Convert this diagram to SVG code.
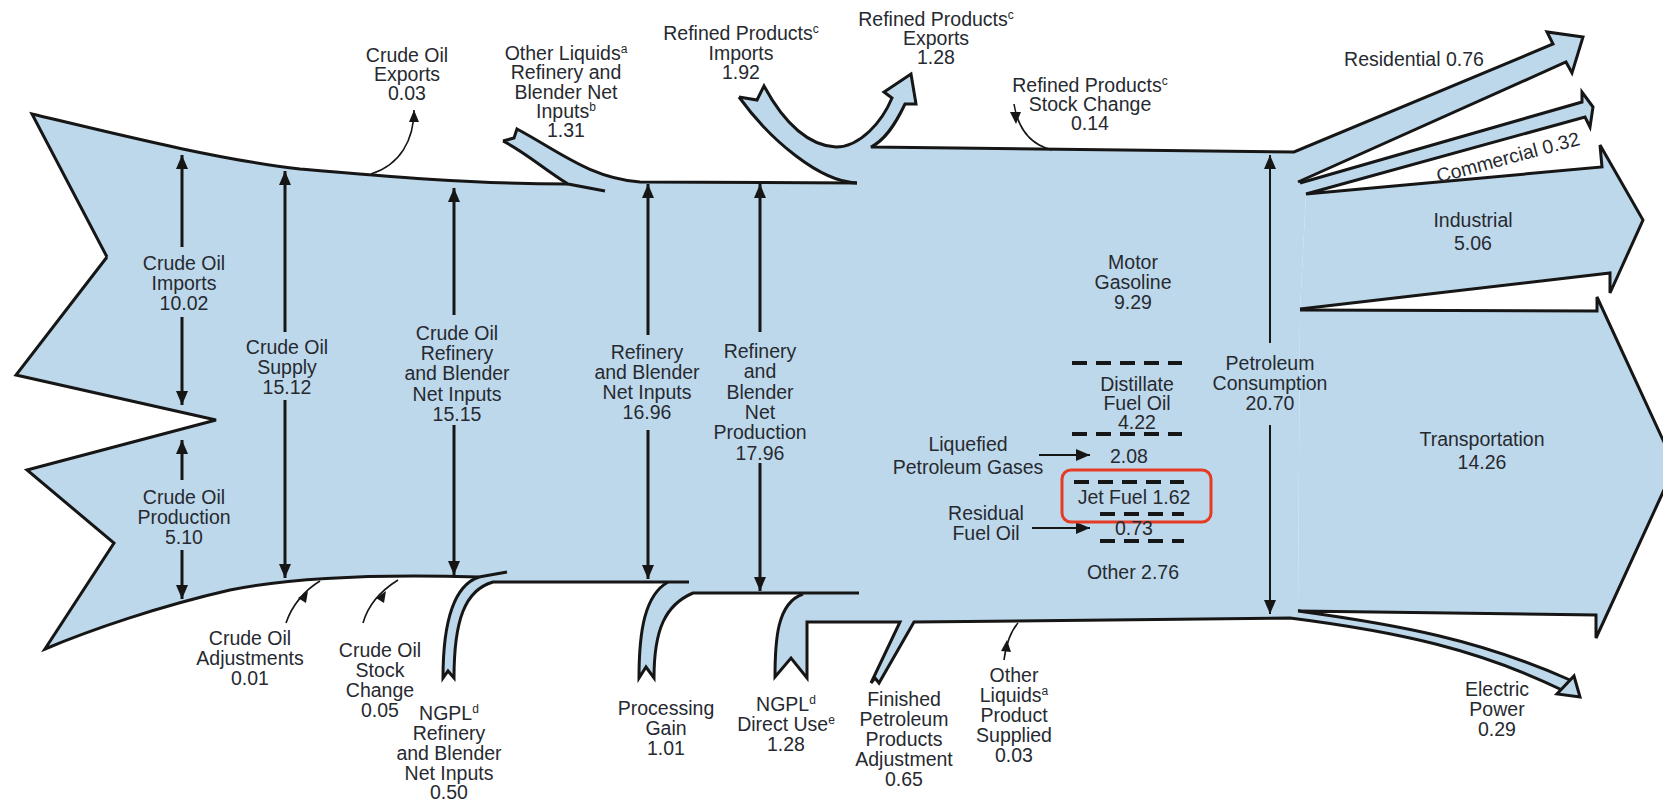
<svg xmlns="http://www.w3.org/2000/svg" width="1663" height="802" viewBox="0 0 1663 802">
<defs>
<style>
.t{font-family:"Liberation Sans",Arial,sans-serif;font-size:19.5px;fill:#262a30;text-anchor:middle}
.fl{fill:#bed8eb;stroke:none}
.ol{fill:none;stroke:#161616;stroke-width:3;stroke-linejoin:miter;stroke-linecap:butt}
.ah{fill:#bed8eb;stroke:#161616;stroke-width:3;stroke-linejoin:miter}
.va{fill:none;stroke:#161616;stroke-width:3}
.vt{fill:none;stroke:#161616;stroke-width:2}
.th{fill:none;stroke:#161616;stroke-width:1.6}
.dash{fill:none;stroke:#161616;stroke-width:4;stroke-dasharray:15 9}
.sm{fill:#161616}
</style>
<marker id="arr" viewBox="0 0 14 12" refX="14" refY="6" markerWidth="14" markerHeight="12" markerUnits="userSpaceOnUse" orient="auto">
<path d="M0,0 L14,6 L0,12 z" fill="#161616"/>
</marker>
<marker id="arrs" viewBox="0 0 12 10" refX="12" refY="5" markerWidth="12" markerHeight="10" markerUnits="userSpaceOnUse" orient="auto">
<path d="M0,0 L12,5 L0,10 z" fill="#161616"/>
</marker>
</defs>
<rect width="1663" height="802" fill="#ffffff"/>

<g id="flows">
<path class="fl" d="M32,114 C120,135 220,160 300,169 C380,176 470,184 568,184 C545,170 525,152 503,141 L514,138 L517,129 C560,152 590,178 640,182 L857,183 C820,182 770,140 739,97 L757,100 L764,86 C785,125 810,146 836,147 C860,147 882,122 892,98 L884,92 L911,74 L916,104 L905,104 C895,125 885,140 871,147 L1294,152 L1300,181 L1306,194 L1300,310 L1298,611 L1290,618 C1200,618 1050,621 914,622 L879,683 L875,678 L871,683 L900,622 L807,622 L807,678 L791,658 L775,677 C775,640 777,603 803,594 L693,593 C665,605 654,630 654,678 L646,667 L639,678 C639,630 645,595 668,582 L493,582 C465,590 454,620 454,678 L448,671 L443,678 C443,620 455,585 479,577 C380,574 290,578 230,590 C160,606 90,630 45,649 L114,543 L27,470 L216,420 L16,375 L107,257 Z"/>
<polygon class="fl" points="1294,152 1553,44 1547,32 1583,37 1572,73 1566,62 1298,182"/>
<polygon class="fl" points="1300,183 1582,102 1582,92 1593,107 1590,127 1585,117 1306,194"/>
<polygon class="fl" points="1306,194 1602,167 1600,145 1643,220 1610,293 1610,273 1300,309"/>
<polygon class="fl" points="1300,310 1597,311 1597,297 1675,466 1596,638 1596,615 1298,610"/>
<path class="fl" d="M1298,611 C1400,625 1480,640 1570,680 L1562,690 C1480,650 1400,632 1290,618 Z"/>
</g>

<g id="outlines">
<path class="ol" d="M107,257 L32,114 C120,135 220,160 300,169 C380,176 470,184 568,184"/>
<path class="ol" d="M503,141 C525,152 545,170 568,184 L605,191"/>
<path class="ol" d="M503,141 L514,138 L517,129 C560,152 590,178 640,182 L857,183"/>
<path class="ol" d="M857,183 C820,182 770,140 739,97"/>
<path class="ol" d="M739,97 L757,100 L764,86 C785,125 810,146 836,147 C860,147 882,122 892,98 L884,92 L911,74 L916,104 L905,104 C895,125 885,140 871,147 L1294,152 L1553,44 L1547,32 L1583,37 L1572,73 L1566,62 L1298,182"/>
<path class="ol" d="M1300,183 L1582,102 L1582,92 L1593,107 L1590,127 L1585,117 L1306,194 L1602,167 L1600,145 L1643,220 L1610,293 L1610,273 L1300,309"/>
<path class="ol" d="M1300,310 L1597,311 L1597,297 L1675,466 L1596,638 L1596,615 L1298,611 C1400,625 1480,640 1570,680"/>
<path class="ol" d="M1562,690 C1480,650 1400,632 1290,618 C1200,618 1050,621 914,622 L879,683 L875,678 L871,683 L900,622 L807,622 L807,678 L791,658 L775,677 C775,640 777,603 803,594"/>
<path class="ol" d="M859,593 L693,593 C665,605 654,630 654,678 L646,667 L639,678 C639,630 645,595 668,582"/>
<path class="ol" d="M689,582 L493,582 C465,590 454,620 454,678 L448,671 L443,678 C443,620 455,585 479,577"/>
<path class="ol" d="M507,572 L479,577 C380,574 290,578 230,590 C160,606 90,630 45,649 L114,543 L27,470 L216,420 L16,375 L107,257"/>
<polygon class="ah" points="1574,676 1580,697 1557,694"/>
</g>

<g id="connectors">
<path class="va" d="M182,247 L182,155" marker-end="url(#arr)"/>
<path class="va" d="M182,317 L182,405" marker-end="url(#arr)"/>
<path class="va" d="M182,480 L182,440" marker-end="url(#arr)"/>
<path class="va" d="M182,550 L182,599" marker-end="url(#arr)"/>
<path class="va" d="M285,332 L285,171" marker-end="url(#arr)"/>
<path class="va" d="M285,400 L285,578" marker-end="url(#arr)"/>
<path class="va" d="M454,315 L454,188" marker-end="url(#arr)"/>
<path class="va" d="M454,425 L454,575" marker-end="url(#arr)"/>
<path class="va" d="M648,335 L648,184" marker-end="url(#arr)"/>
<path class="va" d="M648,430 L648,579" marker-end="url(#arr)"/>
<path class="va" d="M760,332 L760,184" marker-end="url(#arr)"/>
<path class="va" d="M760,463 L760,591" marker-end="url(#arr)"/>
<path class="vt" d="M1270,343 L1270,155" marker-end="url(#arr)"/>
<path class="vt" d="M1270,425 L1270,614" marker-end="url(#arr)"/>
<path class="th" d="M371,174 C400,165 414,140 414,110" marker-end="url(#arrs)"/>
<path class="th" d="M1014,104 Q1020,142 1052,150"/>
<polygon class="sm" points="1010,112 1021,112 1016,124"/>
<path class="th" d="M286,623 C292,605 305,590 320,581"/>
<polygon class="sm" points="308,591 306,603 298,598"/>
<path class="th" d="M363,623 C368,605 382,590 398,580"/>
<polygon class="sm" points="386,591 384,603 376,598"/>
<path class="th" d="M1004,660 C1006,645 1010,632 1018,623"/>
<polygon class="sm" points="1007,640 1011,652 1001,651"/>
<path class="vt" d="M1039,455 L1090,455" marker-end="url(#arr)"/>
<path class="vt" d="M1032,528 L1090,528" marker-end="url(#arr)"/>
<path class="dash" d="M1072,363 L1182,363"/>
<path class="dash" d="M1072,434 L1182,434"/>
<path class="dash" d="M1074,482 L1184,482"/>
<path class="dash" d="M1100,514 L1184,514"/>
<path class="dash" d="M1100,541 L1184,541"/>
<rect x="1062" y="470" width="149" height="52" rx="9" fill="none" stroke="#e53b24" stroke-width="3"/>
</g>

<g id="label-crude-exports"><text class="t" x="407" y="62">Crude Oil</text><text class="t" x="407" y="81">Exports</text><text class="t" x="407" y="100">0.03</text></g>
<g id="label-other-liquids-inputs"><text class="t" x="566" y="60">Other Liquids<tspan font-size="12" dy="-7">a</tspan></text><text class="t" x="566" y="79">Refinery and</text><text class="t" x="566" y="99">Blender Net</text><text class="t" x="566" y="118">Inputs<tspan font-size="12" dy="-7">b</tspan></text><text class="t" x="566" y="137">1.31</text></g>
<g id="label-rp-imports"><text class="t" x="741" y="40">Refined Products<tspan font-size="12" dy="-7">c</tspan></text><text class="t" x="741" y="60">Imports</text><text class="t" x="741" y="79">1.92</text></g>
<g id="label-rp-exports"><text class="t" x="936" y="26">Refined Products<tspan font-size="12" dy="-7">c</tspan></text><text class="t" x="936" y="45">Exports</text><text class="t" x="936" y="64">1.28</text></g>
<g id="label-rp-stock"><text class="t" x="1090" y="92">Refined Products<tspan font-size="12" dy="-7">c</tspan></text><text class="t" x="1090" y="111">Stock Change</text><text class="t" x="1090" y="130">0.14</text></g>
<g id="label-residential"><text class="t" x="1414" y="66">Residential 0.76</text></g>
<g id="label-commercial"><text class="t" x="1508" y="164" transform="rotate(-15 1508 157)">Commercial 0.32</text></g>
<g id="label-industrial"><text class="t" x="1473" y="227">Industrial</text><text class="t" x="1473" y="250">5.06</text></g>
<g id="label-motor"><text class="t" x="1133" y="269">Motor</text><text class="t" x="1133" y="289">Gasoline</text><text class="t" x="1133" y="309">9.29</text></g>
<g id="label-distillate"><text class="t" x="1137" y="391">Distillate</text><text class="t" x="1137" y="410">Fuel Oil</text><text class="t" x="1137" y="429">4.22</text></g>
<g id="label-lpg-value"><text class="t" x="1129" y="463">2.08</text></g>
<g id="label-jet"><text class="t" x="1134" y="504">Jet Fuel 1.62</text></g>
<g id="label-resid-value"><text class="t" x="1134" y="535">0.73</text></g>
<g id="label-other"><text class="t" x="1133" y="579">Other 2.76</text></g>
<g id="label-lpg"><text class="t" x="968" y="451">Liquefied</text><text class="t" x="968" y="474">Petroleum Gases</text></g>
<g id="label-resid"><text class="t" x="986" y="520">Residual</text><text class="t" x="986" y="540">Fuel Oil</text></g>
<g id="label-consumption"><text class="t" x="1270" y="370">Petroleum</text><text class="t" x="1270" y="390">Consumption</text><text class="t" x="1270" y="410">20.70</text></g>
<g id="label-transport"><text class="t" x="1482" y="446">Transportation</text><text class="t" x="1482" y="469">14.26</text></g>
<g id="label-electric"><text class="t" x="1497" y="696">Electric</text><text class="t" x="1497" y="716">Power</text><text class="t" x="1497" y="736">0.29</text></g>
<g id="label-imports"><text class="t" x="184" y="270">Crude Oil</text><text class="t" x="184" y="290">Imports</text><text class="t" x="184" y="310">10.02</text></g>
<g id="label-production"><text class="t" x="184" y="504">Crude Oil</text><text class="t" x="184" y="524">Production</text><text class="t" x="184" y="544">5.10</text></g>
<g id="label-supply"><text class="t" x="287" y="354">Crude Oil</text><text class="t" x="287" y="374">Supply</text><text class="t" x="287" y="394">15.12</text></g>
<g id="label-crude-inputs"><text class="t" x="457" y="340">Crude Oil</text><text class="t" x="457" y="360">Refinery</text><text class="t" x="457" y="380">and Blender</text><text class="t" x="457" y="401">Net Inputs</text><text class="t" x="457" y="421">15.15</text></g>
<g id="label-ref-inputs"><text class="t" x="647" y="359">Refinery</text><text class="t" x="647" y="379">and Blender</text><text class="t" x="647" y="399">Net Inputs</text><text class="t" x="647" y="419">16.96</text></g>
<g id="label-ref-prod"><text class="t" x="760" y="358">Refinery</text><text class="t" x="760" y="378">and</text><text class="t" x="760" y="399">Blender</text><text class="t" x="760" y="419">Net</text><text class="t" x="760" y="439">Production</text><text class="t" x="760" y="460">17.96</text></g>
<g id="label-adjust"><text class="t" x="250" y="645">Crude Oil</text><text class="t" x="250" y="665">Adjustments</text><text class="t" x="250" y="685">0.01</text></g>
<g id="label-crude-stock"><text class="t" x="380" y="657">Crude Oil</text><text class="t" x="380" y="677">Stock</text><text class="t" x="380" y="697">Change</text><text class="t" x="380" y="717">0.05</text></g>
<g id="label-ngpl-ref"><text class="t" x="449" y="720">NGPL<tspan font-size="12" dy="-7">d</tspan></text><text class="t" x="449" y="740">Refinery</text><text class="t" x="449" y="760">and Blender</text><text class="t" x="449" y="780">Net Inputs</text><text class="t" x="449" y="799">0.50</text></g>
<g id="label-proc-gain"><text class="t" x="666" y="715">Processing</text><text class="t" x="666" y="735">Gain</text><text class="t" x="666" y="755">1.01</text></g>
<g id="label-ngpl-direct"><text class="t" x="786" y="711">NGPL<tspan font-size="12" dy="-7">d</tspan></text><text class="t" x="786" y="731">Direct Use<tspan font-size="12" dy="-7">e</tspan></text><text class="t" x="786" y="751">1.28</text></g>
<g id="label-finished"><text class="t" x="904" y="706">Finished</text><text class="t" x="904" y="726">Petroleum</text><text class="t" x="904" y="746">Products</text><text class="t" x="904" y="766">Adjustment</text><text class="t" x="904" y="786">0.65</text></g>
<g id="label-ol-supplied"><text class="t" x="1014" y="682">Other</text><text class="t" x="1014" y="702">Liquids<tspan font-size="12" dy="-7">a</tspan></text><text class="t" x="1014" y="722">Product</text><text class="t" x="1014" y="742">Supplied</text><text class="t" x="1014" y="762">0.03</text></g>
</svg>
